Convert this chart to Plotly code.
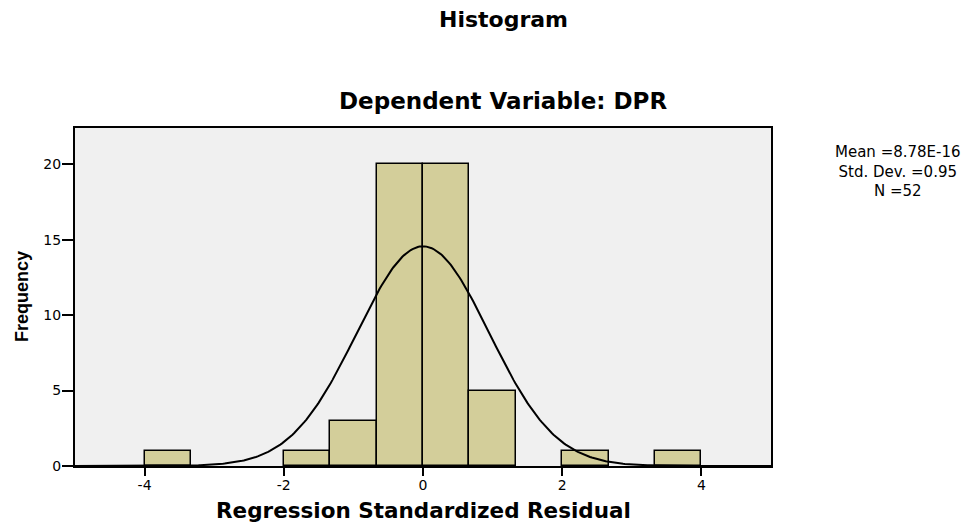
import numpy as np
import plotly.graph_objects as go

# Data
bin_left_edges = [-4.0, -3.333, -2.667, -2.0, -1.333, -0.667, 0.0, 0.667, 1.333, 2.0, 2.667, 3.333]
bin_counts = [1, 0, 0, 1, 3, 20, 20, 5, 0, 1, 0, 1]
bin_width = 0.6667
stat_mean = 8.78e-16
stat_sd = 0.95
stat_n = 52
x_ticks = [-4, -2, 0, 2, 4]
x_tick_labels = ["-4", "-2", "0", "2", "4"]
y_ticks = [0, 5, 10, 15, 20]

centers = [e + bin_width / 2 for e in bin_left_edges]
xs = [c for c, n in zip(centers, bin_counts) if n > 0]
ys = [n for n in bin_counts if n > 0]

# fitted normal curve from the shown statistics
xc = np.linspace(-5, 5, 401)
yc = stat_n * bin_width / (stat_sd * np.sqrt(2 * np.pi)) * np.exp(-0.5 * ((xc - stat_mean) / stat_sd) ** 2)

wide = "DejaVu Sans, Verdana, sans-serif"
narrow = "Liberation Sans, Arial, sans-serif"

OFF = 8  # page body offset
W, H = 970 - OFF, 522 - OFF
ML, MR, MT, MB = 75 - OFF, 199, 128 - OFF, 56
PW = W - ML - MR
PH = H - MT - MB


def px(x):
    return (x - OFF - ML) / PW


def py(y):
    return (H - MB - (y - OFF)) / PH


fig = go.Figure()
fig.add_trace(go.Bar(x=xs, y=ys, width=bin_width,
                     marker=dict(color="#D3CE9A", line=dict(color="black", width=1.5)),
                     showlegend=False))
fig.add_trace(go.Scatter(x=xc, y=yc, mode="lines", line=dict(color="black", width=2),
                         showlegend=False))


def ann(text, x, y, size, family=wide, angle=0):
    return dict(text=text, x=px(x), y=py(y), xref="paper", yref="paper", showarrow=False,
                xanchor="center", yanchor="middle", textangle=angle, align="center",
                font=dict(size=size, family=family))


fig.update_layout(
    width=W, height=H,
    margin=dict(l=ML, r=MR, t=MT, b=MB),
    paper_bgcolor="white", plot_bgcolor="#F0F0F0",
    font=dict(family=wide, color="black", size=13),
    bargap=0,
    xaxis=dict(range=[-5, 5], tickvals=x_ticks, ticktext=x_tick_labels, ticks="outside",
               ticklen=8, tickwidth=2, ticklabelstandoff=-3,
               tickcolor="black", showline=True, linecolor="black", linewidth=2, mirror=True,
               showgrid=False, zeroline=False, tickfont=dict(size=14)),
    yaxis=dict(range=[0, 22.4], tickvals=y_ticks, ticks="outside", ticklen=11, tickwidth=2,
               ticklabelstandoff=-2,
               tickcolor="black", showline=True, linecolor="black", linewidth=2, mirror=True,
               showgrid=False, zeroline=False, tickfont=dict(size=14)),
    annotations=[
        ann("<b>Histogram</b>", 503, 19, 22),
        ann("<b>Dependent Variable: DPR</b>", 503, 101, 23),
        ann("<b>Regression Standardized Residual</b>", 424, 510, 21.5),
        ann("<b>Frequency</b>", 22, 297, 18, narrow, -90),
        ann("Mean =8.78E-16<br>Std. Dev. =0.95<br>N =52", 898, 171, 15),
    ],
)

fig.write_html("out.html")
